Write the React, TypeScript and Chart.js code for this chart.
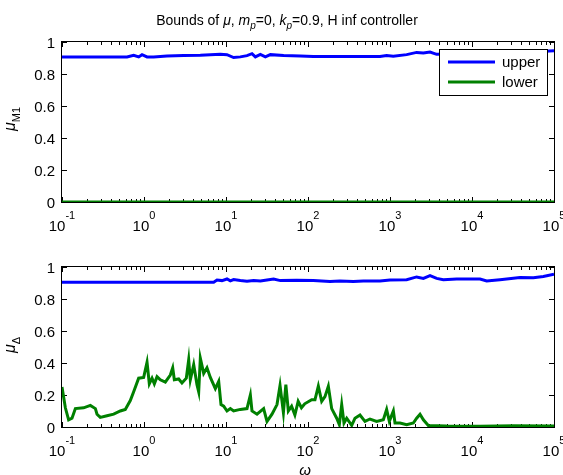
import { useEffect, useRef } from "react";
import { Chart, registerables } from "chart.js";
Chart.register(...registerables);

const FONT = '"Liberation Sans", Arial, sans-serif';

// ---- data (x given as log10(omega)) ----
const topUpperLogW = [-1, -0.207, -0.126, -0.065, -0.024, 0.037, 0.118, 0.28, 0.484, 0.687, 0.931, 1.012, 1.093, 1.175, 1.256, 1.317, 1.358, 1.419, 1.48, 1.541, 1.703, 1.907, 2.065, 2.47, 2.878, 2.959, 3.04, 3.203, 3.325, 3.407, 3.488, 3.569, 3.8, 4.2, 4.6, 4.943, 5];
const topUpperMu = [0.907, 0.907, 0.917, 0.907, 0.921, 0.907, 0.907, 0.913, 0.915, 0.917, 0.923, 0.921, 0.903, 0.907, 0.915, 0.927, 0.907, 0.923, 0.907, 0.921, 0.915, 0.913, 0.909, 0.909, 0.909, 0.915, 0.911, 0.921, 0.935, 0.931, 0.937, 0.923, 0.925, 0.93, 0.935, 0.944, 0.945];
const topLowerLogW = [-1, 0, 1, 2, 3, 4, 5];
const topLowerMu = [0, 0, 0, 0, 0, 0, 0];

const botUpperLogW = [-1, 0.85, 0.89, 0.951, 1.012, 1.053, 1.093, 1.175, 1.256, 1.337, 1.419, 1.5, 1.581, 1.663, 1.86, 2.065, 2.268, 2.39, 2.553, 2.675, 2.878, 3.0, 3.203, 3.325, 3.407, 3.488, 3.569, 3.65, 3.813, 4.098, 4.179, 4.341, 4.585, 4.748, 4.87, 5];
const botUpperMu = [0.905, 0.905, 0.919, 0.915, 0.925, 0.913, 0.921, 0.915, 0.911, 0.915, 0.913, 0.919, 0.925, 0.915, 0.917, 0.915, 0.909, 0.913, 0.909, 0.913, 0.913, 0.919, 0.921, 0.938, 0.929, 0.946, 0.929, 0.921, 0.925, 0.925, 0.913, 0.921, 0.935, 0.933, 0.941, 0.955];

const botLowerLogW = [-1, -0.959, -0.919, -0.878, -0.837, -0.736, -0.654, -0.593, -0.573, -0.533, -0.451, -0.37, -0.289, -0.228, -0.167, -0.126, -0.065, -0.004, 0.037, 0.065, 0.098, 0.126, 0.159, 0.199, 0.26, 0.321, 0.35, 0.37, 0.423, 0.463, 0.516, 0.545, 0.565, 0.606, 0.646, 0.667, 0.687, 0.728, 0.768, 0.809, 0.87, 0.911, 0.939, 0.972, 1.012, 1.053, 1.093, 1.175, 1.256, 1.297, 1.317, 1.378, 1.459, 1.5, 1.561, 1.622, 1.659, 1.7, 1.73, 1.76, 1.8, 1.84, 1.88, 1.92, 1.96, 2.045, 2.085, 2.126, 2.167, 2.207, 2.248, 2.289, 2.35, 2.382, 2.411, 2.439, 2.472, 2.533, 2.573, 2.634, 2.695, 2.756, 2.837, 2.919, 2.959, 2.992, 3.041, 3.061, 3.122, 3.203, 3.285, 3.325, 3.366, 3.407, 3.467, 3.691, 4.098, 4.504, 5];
const botLowerMu = [0.25, 0.12, 0.045, 0.055, 0.115, 0.12, 0.135, 0.115, 0.08, 0.06, 0.07, 0.08, 0.1, 0.11, 0.165, 0.22, 0.305, 0.31, 0.405, 0.27, 0.305, 0.27, 0.315, 0.295, 0.28, 0.325, 0.37, 0.295, 0.3, 0.275, 0.305, 0.42, 0.295, 0.39, 0.265, 0.22, 0.43, 0.335, 0.37, 0.31, 0.24, 0.285, 0.14, 0.13, 0.1, 0.115, 0.1, 0.11, 0.115, 0.2, 0.1, 0.08, 0.115, 0.035, 0.08, 0.14, 0.26, 0.09, 0.265, 0.1, 0.13, 0.075, 0.16, 0.12, 0.145, 0.17, 0.17, 0.255, 0.16, 0.19, 0.255, 0.115, 0.055, 0.015, 0.14, 0.025, 0.055, 0.01, 0.055, 0.075, 0.035, 0.05, 0.035, 0.045, 0.11, 0.035, 0.1, 0.025, 0.025, 0.015, 0.025, 0.055, 0.08, 0.045, 0.01, 0.006, 0.004, 0.008, 0.006];

const xDecades = [-1, 0, 1, 2, 3, 4, 5];
const yTicks = [0, 0.2, 0.4, 0.6, 0.8, 1];
const yTickLabels = ["0", "0.2", "0.4", "0.6", "0.8", "1"];
const seriesNames = ["upper", "lower"];
const BLUE = "#0000ff";
const GREEN = "#008000";

type Seg = { t: string; italic?: boolean; size: number; dy?: number };

function toPts(lw: number[], mu: number[]) {
  return lw.map((v, i) => ({ x: Math.pow(10, v), y: mu[i] }));
}

function drawSegs(ctx: CanvasRenderingContext2D, segs: Seg[], x: number, y: number, align: "left" | "center") {
  ctx.textAlign = "left";
  ctx.textBaseline = "alphabetic";
  const widths = segs.map((s) => {
    ctx.font = `${s.italic ? "italic " : ""}${s.size}px ${FONT}`;
    return ctx.measureText(s.t).width;
  });
  const total = widths.reduce((a, b) => a + b, 0);
  let cx = align === "center" ? x - total / 2 : x;
  segs.forEach((s, i) => {
    ctx.font = `${s.italic ? "italic " : ""}${s.size}px ${FONT}`;
    ctx.fillText(s.t, cx, y + (s.dy || 0));
    cx += widths[i];
  });
}

type PlotCfg = {
  yLabel: Seg[];
  yLabelCenter: number;
  title: boolean;
  xLabel: boolean;
  legend: boolean;
};

function makePlugin(cfg: PlotCfg) {
  return {
    id: "matlabAxes",
    beforeDatasetsDraw(chart: any) {
      const ctx: CanvasRenderingContext2D = chart.ctx;
      const { left, right, top, bottom } = chart.chartArea;
      const xs = chart.scales.x;
      const ys = chart.scales.y;
      ctx.save();
      ctx.strokeStyle = "#000";
      ctx.lineWidth = 1;
      ctx.strokeRect(left - 0.5, top - 0.5, right - left + 1, bottom - top + 1);
      ctx.beginPath();
      yTicks.forEach((v) => {
        const py = Math.round(ys.getPixelForValue(v)) + 0.5;
        ctx.moveTo(left, py); ctx.lineTo(left + 5, py);
        ctx.moveTo(right, py); ctx.lineTo(right - 5, py);
      });
      xDecades.forEach((d) => {
        const px = Math.round(xs.getPixelForValue(Math.pow(10, d))) + 0.5;
        ctx.moveTo(px, bottom); ctx.lineTo(px, bottom - 5);
        ctx.moveTo(px, top); ctx.lineTo(px, top + 5);
        if (d < 5) {
          for (let k = 2; k <= 9; k++) {
            const pm = Math.round(xs.getPixelForValue(k * Math.pow(10, d))) + 0.5;
            ctx.moveTo(pm, bottom); ctx.lineTo(pm, bottom - 3);
            ctx.moveTo(pm, top); ctx.lineTo(pm, top + 3);
          }
        }
      });
      ctx.stroke();
      ctx.restore();
    },
    afterDraw(chart: any) {
      const ctx: CanvasRenderingContext2D = chart.ctx;
      const { left, top, bottom } = chart.chartArea;
      const xs = chart.scales.x;
      const ys = chart.scales.y;
      ctx.save();
      ctx.fillStyle = "#000";
      // y tick labels
      ctx.font = `15px ${FONT}`;
      ctx.textAlign = "right";
      ctx.textBaseline = "middle";
      yTicks.forEach((v, i) => {
        ctx.fillText(yTickLabels[i], left - 7, ys.getPixelForValue(v) + 2);
      });
      // x tick labels
      xDecades.forEach((d) => {
        const px = xs.getPixelForValue(Math.pow(10, d));
        drawSegs(ctx, [
          { t: "10", size: 15 },
          { t: String(d), size: 11, dy: -12 },
        ], px, bottom + 29, "center");
      });
      // y label
      ctx.save();
      ctx.translate(15, cfg.yLabelCenter);
      ctx.rotate(-Math.PI / 2);
      drawSegs(ctx, cfg.yLabel, 0, 0, "center");
      ctx.restore();
      if (cfg.title) {
        drawSegs(ctx, [
          { t: "Bounds of ", size: 14 },
          { t: "μ", size: 14, italic: true },
          { t: ", ", size: 14 },
          { t: "m", size: 14, italic: true },
          { t: "p", size: 10, italic: true, dy: 4 },
          { t: "=0, ", size: 14 },
          { t: "k", size: 14, italic: true },
          { t: "p", size: 10, italic: true, dy: 4 },
          { t: "=0.9, H inf controller", size: 14 },
        ], 287, 25, "center");
      }
      if (cfg.xLabel) {
        drawSegs(ctx, [{ t: "ω", size: 15, italic: true }], 305, 235, "center");
      }
      if (cfg.legend) {
        ctx.fillStyle = "#fff";
        ctx.fillRect(439.5, 49.5, 108, 46);
        ctx.strokeStyle = "#000";
        ctx.lineWidth = 1;
        ctx.strokeRect(439.5, 49.5, 108, 46);
        const rows = [
          { name: seriesNames[0], color: BLUE, y: 62 },
          { name: seriesNames[1], color: GREEN, y: 82 },
        ];
        rows.forEach((r) => {
          ctx.strokeStyle = r.color;
          ctx.lineWidth = 3;
          ctx.beginPath();
          ctx.moveTo(448, r.y);
          ctx.lineTo(495, r.y);
          ctx.stroke();
          ctx.fillStyle = "#000";
          ctx.font = `15px ${FONT}`;
          ctx.textAlign = "left";
          ctx.textBaseline = "middle";
          ctx.fillText(r.name, 502, r.y + 1);
        });
      }
      void top;
      ctx.restore();
    },
  };
}

function makeConfig(upper: { x: number; y: number }[], lower: { x: number; y: number }[], padTop: number, padBottom: number, cfg: PlotCfg): any {
  return {
    type: "line",
    data: {
      datasets: [
        { label: seriesNames[0], data: upper, borderColor: BLUE, borderWidth: 3, pointRadius: 0, tension: 0, fill: false },
        { label: seriesNames[1], data: lower, borderColor: GREEN, borderWidth: 3, pointRadius: 0, tension: 0, fill: false },
      ],
    },
    options: {
      responsive: false,
      devicePixelRatio: 1,
      animation: false,
      layout: { padding: { left: 62, right: 9, top: padTop, bottom: padBottom } },
      scales: {
        x: { type: "logarithmic", min: 0.1, max: 1e5, display: false },
        y: { type: "linear", min: 0, max: 1, display: false },
      },
      plugins: { legend: { display: false }, tooltip: { enabled: false }, title: { display: false } },
    },
    plugins: [makePlugin(cfg)],
  };
}

export default function App() {
  const ref1 = useRef<HTMLCanvasElement>(null);
  const ref2 = useRef<HTMLCanvasElement>(null);
  useEffect(() => {
    const c1 = new Chart(ref1.current!, makeConfig(
      toPts(topUpperLogW, topUpperMu), toPts(topLowerLogW, topLowerMu), 42, 38,
      { yLabel: [{ t: "μ", size: 16, italic: true }, { t: "M1", size: 11, dy: 5 }], yLabelCenter: 119, title: true, xLabel: false, legend: true }
    ));
    const c2 = new Chart(ref2.current!, makeConfig(
      toPts(botUpperLogW, botUpperMu), toPts(botLowerLogW, botLowerMu), 27, 48,
      { yLabel: [{ t: "μ", size: 16, italic: true }, { t: "Δ", size: 11, dy: 5 }], yLabelCenter: 105, title: false, xLabel: true, legend: false }
    ));
    return () => { c1.destroy(); c2.destroy(); };
  }, []);
  return (
    <div style={{ position: "fixed", left: 0, top: 0, width: 563, height: 475, background: "#fff", overflow: "hidden" }}>
      <canvas ref={ref1} width={563} height={240} style={{ position: "absolute", left: 0, top: 0, width: 563, height: 240 }} />
      <canvas ref={ref2} width={563} height={235} style={{ position: "absolute", left: 0, top: 240, width: 563, height: 235 }} />
    </div>
  );
}
